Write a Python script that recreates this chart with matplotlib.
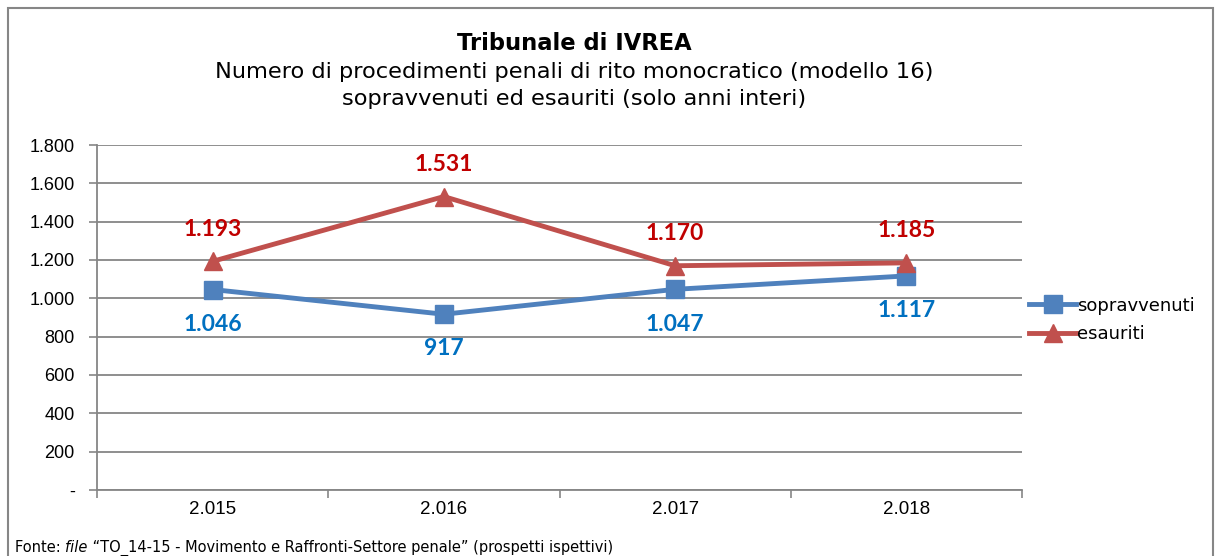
"""
Tribunale di IVREA - procedimenti penali monocratici sopravvenuti / esauriti
"""
import matplotlib
matplotlib.use('Agg')
import matplotlib.pyplot as plt
from matplotlib.patches import Rectangle

# Dati
anni = ['2.015', '2.016', '2.017', '2.018']
sopravvenuti = [1046, 917, 1047, 1117]
esauriti = [1193, 1531, 1170, 1185]
etich_sopr = ['1.046', '917', '1.047', '1.117']
etich_esau = ['1.193', '1.531', '1.170', '1.185']
y_ticks = [0, 200, 400, 600, 800, 1000, 1200, 1400, 1600, 1800]
y_labels = ['-', '200', '400', '600', '800', '1.000', '1.200', '1.400', '1.600', '1.800']

W, H = 1216, 556
fig = plt.figure(figsize=(W / 100, H / 100), dpi=100)
fig.patch.set_facecolor('white')

# Cornice esterna
fig.patches.append(Rectangle((8 / W, -0.02), (1213 - 8) / W, 1 - 8 / H + 0.02,
                             transform=fig.transFigure, fill=False,
                             edgecolor='#868686', linewidth=1.5))

ax = fig.add_axes([97 / W, 1 - 490 / H, (1022 - 97) / W, (490 - 145) / H])
x = list(range(len(anni)))

ax.plot(x, sopravvenuti, color='#4F81BD', linewidth=3.5, marker='s',
        markersize=13, label='sopravvenuti', zorder=3)
ax.plot(x, esauriti, color='#C0504D', linewidth=3.5, marker='^',
        markersize=13, label='esauriti', zorder=3)

for i in x:
    ax.annotate(etich_esau[i], (i, esauriti[i]), xytext=(0, 23),
                textcoords='offset points', ha='center', va='center',
                color='#C00000', fontsize=16.5, fontweight='bold', family='Lato')
    ax.annotate(etich_sopr[i], (i, sopravvenuti[i]), xytext=(0, -25),
                textcoords='offset points', ha='center', va='center',
                color='#0070C0', fontsize=16.5, fontweight='bold', family='Lato')

ax.set_xlim(-0.5, len(anni) - 0.5)
ax.set_ylim(0, 1800)
ax.set_yticks(y_ticks)
ax.set_yticklabels(y_labels, family='Liberation Sans', fontsize=13)
ax.set_xticks(x)
ax.set_xticklabels(anni, family='Liberation Sans', fontsize=13.5)
ax.set_xticks([i - 0.5 for i in range(len(anni) + 1)], minor=True)
ax.tick_params(axis='x', which='major', length=0, pad=8)
ax.tick_params(axis='x', which='minor', length=6, color='#868686', width=1.2)
ax.tick_params(axis='y', length=6, color='#868686', width=1.2, pad=10)

ax.grid(True, axis='y', color='#868686', linewidth=1.3)
ax.set_axisbelow(True)
for s in ['top', 'right']:
    ax.spines[s].set_visible(False)
for s in ['left', 'bottom']:
    ax.spines[s].set_color('#868686')
    ax.spines[s].set_linewidth(1.3)

fig.legend(loc='center left', bbox_to_anchor=(1013 / W, 1 - 320 / H),
           frameon=False, handlelength=2.6, handletextpad=0.05,
           labelspacing=0.6, prop={'family': 'DejaVu Sans', 'size': 13})

# Titoli
fig.text(0.4725, 1 - 43 / H, 'Tribunale di IVREA', ha='center', va='center',
         fontsize=16.3, fontweight='bold', family='DejaVu Sans')
fig.text(0.4725, 1 - 72 / H, 'Numero di procedimenti penali di rito monocratico (modello 16)',
         ha='center', va='center', fontsize=16.2, family='DejaVu Sans')
fig.text(0.4725, 1 - 99 / H, 'sopravvenuti ed esauriti (solo anni interi)',
         ha='center', va='center', fontsize=16.2, family='DejaVu Sans')

# Fonte
renderer = fig.canvas.get_renderer()
xpos = 15 / W
ypos = 1 - 548 / H
parts = [('Fonte: ', 'normal'), ('file', 'italic'),
         (' \u201cTO_14-15 - Movimento e Raffronti-Settore penale\u201d (prospetti ispettivi)', 'normal')]
for txt, st in parts:
    t = fig.text(xpos, ypos, txt, ha='left', va='center', fontsize=10.5,
                 style=st, family='DejaVu Sans')
    bb = t.get_window_extent(renderer=renderer)
    xpos += bb.width / W

fig.savefig('out.png', dpi=100)
